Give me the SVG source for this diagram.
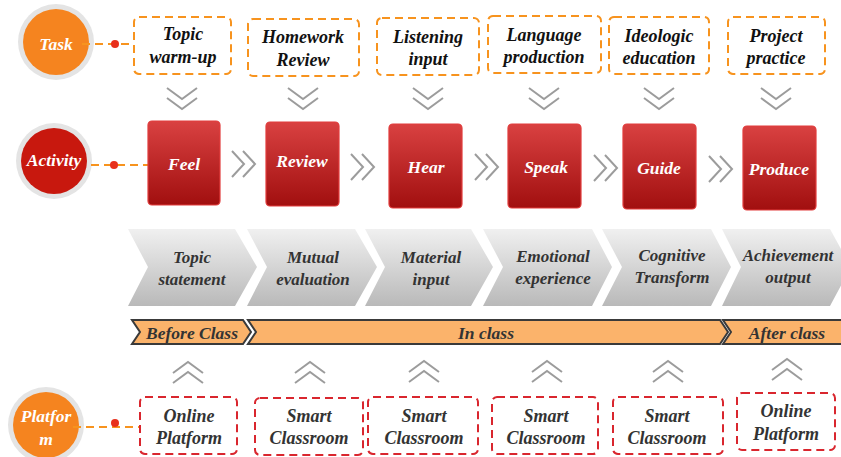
<svg xmlns="http://www.w3.org/2000/svg" width="841" height="457" viewBox="0 0 841 457" font-family="'Liberation Serif', 'DejaVu Serif', serif">
  <defs>
    <linearGradient id="redFill" x1="0" y1="0" x2="0" y2="1">
      <stop offset="0" stop-color="#d94141"/>
      <stop offset="1" stop-color="#a10f0f"/>
    </linearGradient>
    <linearGradient id="grayFill" x1="0" y1="0" x2="0" y2="1">
      <stop offset="0" stop-color="#f0f0f0"/>
      <stop offset="1" stop-color="#b9b9b9"/>
    </linearGradient>
    <!-- chevron glyphs -->
    <g id="chevDown" class="chev">
      <polyline points="-15,0 0,11 15,0"/>
      <polyline points="-15,10 0,21 15,10"/>
    </g>
    <g id="chevUp" class="chev">
      <polyline points="-15,11 0,0 15,11"/>
      <polyline points="-15,21 0,10 15,21"/>
    </g>
    <g id="chevRight" class="chev">
      <polyline points="0,0 12,13 0,26"/>
      <polyline points="11,0 23,13 11,26"/>
    </g>
  </defs>
  <style>
    text { font-family: "Liberation Serif", "DejaVu Serif", serif; font-weight: 700; font-style: italic; text-anchor: middle; }
    .chev polyline { fill: none; stroke: #9c9c9c; stroke-width: 2; }
    .ring { fill: #e4e4e4; }
    .lbl-w { fill: #ffffff; font-size: 17.5px; }
    .task-box { fill: #ffffff; stroke: #f7931e; stroke-width: 2; stroke-dasharray: 8 5; }
    .plat-box { fill: #ffffff; stroke: #d9262e; stroke-width: 2; stroke-dasharray: 8 5; }
    .task-t { fill: #111111; font-size: 18px; }
    .plat-t { fill: #333333; font-size: 18px; }
    .act-box { fill: url(#redFill); stroke: #e23c3c; stroke-width: 1.2; }
    .act-t { fill: #ffffff; font-size: 17.5px; }
    .stage { fill: url(#grayFill); }
    .stage-t { fill: #333333; font-size: 17px; }
    .phase { fill: #fbb36b; stroke: #3a3a3a; stroke-width: 2; stroke-linejoin: miter; }
    .phase-t { fill: #333333; font-size: 17.5px; }
    .link { fill: none; stroke: #f7931e; stroke-width: 2; stroke-dasharray: 8 5; }
    .dot { fill: #e8301c; }
  </style>

  <!-- row headers -->
  <g id="task-head">
    <circle class="ring" cx="56" cy="42" r="38"/>
    <circle cx="56" cy="42" r="33" fill="#f5841f"/>
    <text class="lbl-w" x="56" y="50">Task</text>
  </g>
  <g id="activity-head">
    <circle class="ring" cx="54" cy="161" r="38"/>
    <circle cx="54" cy="161" r="33" fill="#c8180e"/>
    <text class="lbl-w" x="54" y="166">Activity</text>
  </g>
  <g id="platform-head">
    <circle class="ring" cx="46" cy="425" r="38"/>
    <circle cx="46" cy="425" r="33" fill="#f5841f"/>
    <text class="lbl-w" x="46" y="422">Platfor</text>
    <text class="lbl-w" x="46" y="445">m</text>
  </g>

  <!-- connectors -->
  <g id="connectors">
    <line class="link" x1="82" y1="44" x2="136" y2="44"/>
    <circle class="dot" cx="115" cy="44" r="4"/>
    <line class="link" x1="91" y1="165" x2="148" y2="165"/>
    <circle class="dot" cx="114" cy="165" r="4"/>
    <line class="link" x1="73" y1="427" x2="140" y2="427"/>
    <circle class="dot" cx="115" cy="423" r="4"/>

    <use href="#chevDown" x="182" y="88"/>
    <use href="#chevDown" x="303" y="88"/>
    <use href="#chevDown" x="428" y="88"/>
    <use href="#chevDown" x="544" y="88"/>
    <use href="#chevDown" x="659" y="88"/>
    <use href="#chevDown" x="776" y="88"/>

    <use href="#chevRight" x="232" y="151"/>
    <use href="#chevRight" x="351" y="154"/>
    <use href="#chevRight" x="475" y="154"/>
    <use href="#chevRight" x="594" y="155"/>
    <use href="#chevRight" x="709" y="156"/>

    <use href="#chevUp" x="188" y="362"/>
    <use href="#chevUp" x="310" y="362"/>
    <use href="#chevUp" x="424" y="361"/>
    <use href="#chevUp" x="547" y="361"/>
    <use href="#chevUp" x="668" y="361"/>
    <use href="#chevUp" x="787" y="359"/>
  </g>

  <!-- task row -->
  <g id="task-1">
    <rect class="task-box" x="134" y="17" width="97" height="57" rx="5"/>
    <text class="task-t" x="183" y="40">Topic</text>
    <text class="task-t" x="183" y="63">warm-up</text>
  </g>
  <g id="task-2">
    <rect class="task-box" x="248" y="19" width="111" height="57" rx="5"/>
    <text class="task-t" x="303" y="43">Homework</text>
    <text class="task-t" x="303" y="66">Review</text>
  </g>
  <g id="task-3">
    <rect class="task-box" x="377" y="18" width="102" height="57" rx="5"/>
    <text class="task-t" x="428" y="43">Listening</text>
    <text class="task-t" x="428" y="65">input</text>
  </g>
  <g id="task-4">
    <rect class="task-box" x="488" y="16" width="113" height="57" rx="5"/>
    <text class="task-t" x="544" y="41">Language</text>
    <text class="task-t" x="544" y="63">production</text>
  </g>
  <g id="task-5">
    <rect class="task-box" x="609" y="17" width="100" height="57" rx="5"/>
    <text class="task-t" x="659" y="42">Ideologic</text>
    <text class="task-t" x="659" y="64">education</text>
  </g>
  <g id="task-6">
    <rect class="task-box" x="728" y="17" width="97" height="57" rx="5"/>
    <text class="task-t" x="776" y="42">Project</text>
    <text class="task-t" x="776" y="64">practice</text>
  </g>

  <!-- activity row -->
  <g id="act-feel">
    <rect class="act-box" x="148" y="121" width="72" height="84" rx="4"/>
    <text class="act-t" x="184" y="170">Feel</text>
  </g>
  <g id="act-review">
    <rect class="act-box" x="266" y="122" width="73" height="84" rx="4"/>
    <text class="act-t" x="302" y="167">Review</text>
  </g>
  <g id="act-hear">
    <rect class="act-box" x="389" y="124" width="73" height="84" rx="4"/>
    <text class="act-t" x="426" y="173">Hear</text>
  </g>
  <g id="act-speak">
    <rect class="act-box" x="508" y="124" width="73" height="84" rx="4"/>
    <text class="act-t" x="546" y="173">Speak</text>
  </g>
  <g id="act-guide">
    <rect class="act-box" x="623" y="124" width="73" height="85" rx="4"/>
    <text class="act-t" x="659" y="174">Guide</text>
  </g>
  <g id="act-produce">
    <rect class="act-box" x="743" y="126" width="73" height="84" rx="4"/>
    <text class="act-t" x="779" y="175">Produce</text>
  </g>

  <!-- stage band -->
  <g id="stage-1">
    <path class="stage" d="M128,229 H235 L257,267 L235,306 H128 L148,267 Z"/>
    <text class="stage-t" x="192" y="263">Topic</text>
    <text class="stage-t" x="192" y="285">statement</text>
  </g>
  <g id="stage-2">
    <path class="stage" d="M247,229 H355 L377,267 L355,306 H247 L267,267 Z"/>
    <text class="stage-t" x="313" y="263">Mutual</text>
    <text class="stage-t" x="313" y="285">evaluation</text>
  </g>
  <g id="stage-3">
    <path class="stage" d="M365,229 H471 L493,267 L471,306 H365 L385,267 Z"/>
    <text class="stage-t" x="431" y="263">Material</text>
    <text class="stage-t" x="431" y="285">input</text>
  </g>
  <g id="stage-4">
    <path class="stage" d="M483,229 H592 L612,267 L592,306 H483 L503,267 Z"/>
    <text class="stage-t" x="553" y="262">Emotional</text>
    <text class="stage-t" x="553" y="284">experience</text>
  </g>
  <g id="stage-5">
    <path class="stage" d="M602,229 H711 L731,267 L711,306 H602 L622,267 Z"/>
    <text class="stage-t" x="672" y="261">Cognitive</text>
    <text class="stage-t" x="672" y="283">Transform</text>
  </g>
  <g id="stage-6">
    <path class="stage" d="M722,229 H830 L851,267 L830,306 H722 L741,267 Z"/>
    <text class="stage-t" x="788" y="261">Achievement</text>
    <text class="stage-t" x="788" y="283">output</text>
  </g>

  <!-- phase band -->
  <g id="phase-before">
    <path class="phase" d="M132,320 H243 L251,332 L243,344 H132 L140,332 Z"/>
    <text class="phase-t" x="192" y="339">Before Class</text>
  </g>
  <g id="phase-in">
    <path class="phase" d="M248,320 H720 L728,332 L720,344 H248 L256,332 Z"/>
    <text class="phase-t" x="486" y="339">In class</text>
  </g>
  <g id="phase-after">
    <path class="phase" d="M723,320 H848 V344 H723 L731,332 Z"/>
    <text class="phase-t" x="787" y="339">After class</text>
  </g>

  <!-- platform row -->
  <g id="plat-1">
    <rect class="plat-box" x="140" y="397" width="97" height="57" rx="5"/>
    <text class="plat-t" x="189" y="422">Online</text>
    <text class="plat-t" x="189" y="444">Platform</text>
  </g>
  <g id="plat-2">
    <rect class="plat-box" x="255" y="398" width="108" height="57" rx="5"/>
    <text class="plat-t" x="309" y="422">Smart</text>
    <text class="plat-t" x="309" y="444">Classroom</text>
  </g>
  <g id="plat-3">
    <rect class="plat-box" x="368" y="397" width="110" height="57" rx="5"/>
    <text class="plat-t" x="424" y="422">Smart</text>
    <text class="plat-t" x="424" y="444">Classroom</text>
  </g>
  <g id="plat-4">
    <rect class="plat-box" x="492" y="397" width="106" height="57" rx="5"/>
    <text class="plat-t" x="546" y="422">Smart</text>
    <text class="plat-t" x="546" y="444">Classroom</text>
  </g>
  <g id="plat-5">
    <rect class="plat-box" x="613" y="397" width="110" height="57" rx="5"/>
    <text class="plat-t" x="667" y="422">Smart</text>
    <text class="plat-t" x="667" y="444">Classroom</text>
  </g>
  <g id="plat-6">
    <rect class="plat-box" x="737" y="393" width="98" height="57" rx="5"/>
    <text class="plat-t" x="786" y="417">Online</text>
    <text class="plat-t" x="786" y="440">Platform</text>
  </g>
</svg>
